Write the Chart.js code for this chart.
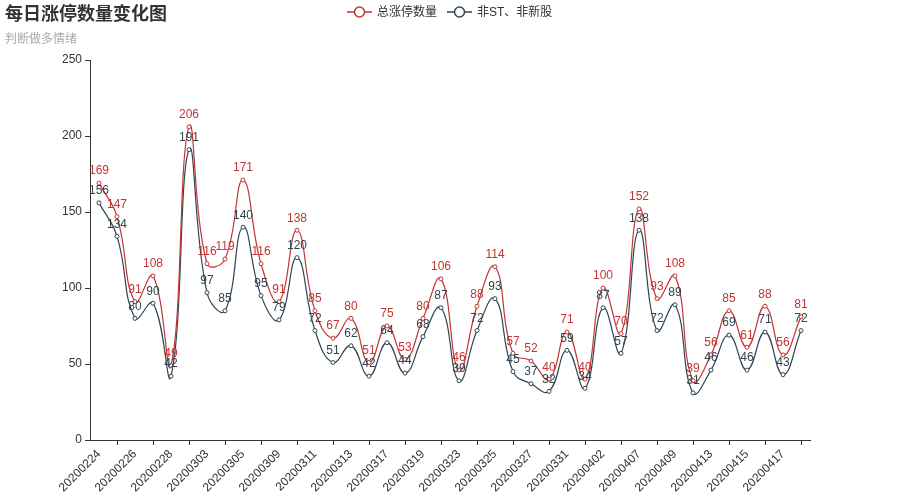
<!DOCTYPE html>
<html>
<head>
<meta charset="utf-8">
<script src="https://cdn.jsdelivr.net/npm/chart.js@4/dist/chart.umd.min.js"></script>
<style>
	body { margin: 0; background: #fff; }
	canvas { display: block; }
</style>
</head>
<body>
<canvas id="myChart" width="900" height="500"></canvas>
<script>
// DATA
const dates = [
	"20200224", "20200225", "20200226", "20200227", "20200228",
	"20200302", "20200303", "20200304", "20200305", "20200306",
	"20200309", "20200310", "20200311", "20200312", "20200313",
	"20200316", "20200317", "20200318", "20200319", "20200320",
	"20200323", "20200324", "20200325", "20200326", "20200327",
	"20200330", "20200331", "20200401", "20200402", "20200403",
	"20200407", "20200408", "20200409", "20200410", "20200413",
	"20200414", "20200415", "20200416", "20200417", "20200420",
];
const totalLimitUp = [
	169, 147, 91, 108, 49, 206, 116, 119, 171, 116,
	91, 138, 85, 67, 80, 51, 75, 53, 80, 106,
	46, 88, 114, 57, 52, 40, 71, 40, 100, 70,
	152, 93, 108, 39, 56, 85, 61, 88, 56, 81,
];
const nonStNonNew = [
	156, 134, 80, 90, 42, 191, 97, 85, 140, 95,
	79, 120, 72, 51, 62, 42, 64, 44, 68, 87,
	39, 72, 93, 45, 37, 32, 59, 34, 87, 57,
	138, 72, 89, 31, 46, 69, 46, 71, 43, 72,
];
const seriesNames = ["总涨停数量", "非ST、非新股"];
const yTicks = [0, 50, 100, 150, 200, 250];

const RED = "#c23531";
const DARK = "#2f4554";
const FONT = "'Liberation Sans', 'Noto Sans CJK SC', sans-serif";

// VALUE LABELS ABOVE POINTS
const valueLabels = {
	id: "valueLabels",
	afterDatasetsDraw(chart) {
		const ctx = chart.ctx;
		ctx.save();
		ctx.font = "12px " + FONT;
		ctx.textAlign = "center";
		ctx.textBaseline = "bottom";
		chart.data.datasets.forEach((ds, i) => {
			const meta = chart.getDatasetMeta(i);
			ctx.fillStyle = ds.borderColor;
			meta.data.forEach((pt, j) => {
				ctx.fillText(String(ds.data[j]), pt.x, pt.y - 6);
			});
		});
		ctx.restore();
	},
};

// TITLE, SUBTITLE AND LEGEND
const header = {
	id: "header",
	afterDraw(chart) {
		const ctx = chart.ctx;
		ctx.save();
		ctx.textBaseline = "top";
		ctx.textAlign = "left";
		ctx.fillStyle = "#333";
		ctx.font = "bold 18px " + FONT;
		ctx.fillText("每日涨停数量变化图", 5, 6);
		ctx.fillStyle = "#aaa";
		ctx.font = "12px " + FONT;
		ctx.fillText("判断做多情绪", 5, 34);

		// legend
		const colors = [RED, DARK];
		let x = 347;
		const y = 12;
		ctx.font = "12px " + FONT;
		ctx.textBaseline = "middle";
		seriesNames.forEach((name, i) => {
			ctx.strokeStyle = colors[i];
			ctx.lineWidth = 1.5;
			ctx.beginPath();
			ctx.moveTo(x, y);
			ctx.lineTo(x + 25, y);
			ctx.stroke();
			ctx.beginPath();
			ctx.arc(x + 12.5, y, 5, 0, Math.PI * 2);
			ctx.fillStyle = "#fff";
			ctx.fill();
			ctx.stroke();
			ctx.fillStyle = "#333";
			ctx.fillText(name, x + 30, y + 1);
			x += 30 + ctx.measureText(name).width + 10;
		});
		ctx.restore();
	},
};

// SET-UP
const data = {
	labels: dates,
	datasets: [
		{
			label: seriesNames[0],
			data: totalLimitUp,
			borderColor: RED,
			backgroundColor: "#fff",
			pointBackgroundColor: "#fff",
			pointBorderColor: RED,
			pointRadius: 2,
			pointBorderWidth: 1,
			borderWidth: 1.2,
			tension: 0.45,
			clip: false,
		},
		{
			label: seriesNames[1],
			data: nonStNonNew,
			borderColor: DARK,
			backgroundColor: "#fff",
			pointBackgroundColor: "#fff",
			pointBorderColor: DARK,
			pointRadius: 2,
			pointBorderWidth: 1,
			borderWidth: 1.2,
			tension: 0.45,
			clip: false,
		},
	],
};

// CONFIG
const config = {
	type: "line",
	data: data,
	options: {
		responsive: false,
		animation: false,
		layout: { padding: { top: 60, right: 90, left: 0, bottom: 0 } },
		plugins: {
			legend: { display: false },
			title: { display: false },
			tooltip: { enabled: false },
		},
		scales: {
			x: {
				type: "category",
				offset: true,
				border: { color: "#333", width: 1 },
				grid: {
					offset: false,
					drawOnChartArea: false,
					tickLength: 5,
					color: (c) => (c.index % 2 === 1 ? "#333" : "rgba(0,0,0,0)"),
				},
				ticks: {
					autoSkip: false,
					maxRotation: 45,
					minRotation: 45,
					padding: 2,
					color: "#333",
					font: { size: 12, family: FONT },
					callback: (v, i) => (i % 2 === 0 ? dates[i] : ""),
				},
				afterFit: (s) => { s.height = 60; },
			},
			y: {
				min: yTicks[0],
				max: yTicks[yTicks.length - 1],
				border: { color: "#333", width: 1 },
				grid: { drawOnChartArea: false, tickLength: 5, color: "#333" },
				ticks: {
					stepSize: 50,
					padding: 3,
					color: "#333",
					font: { size: 12, family: FONT },
				},
				afterFit: (s) => { s.width = 90; },
			},
		},
	},
	plugins: [valueLabels, header],
};

// RENDER
var myChart = new Chart(document.getElementById("myChart"), config);
</script>
</body>
</html>
